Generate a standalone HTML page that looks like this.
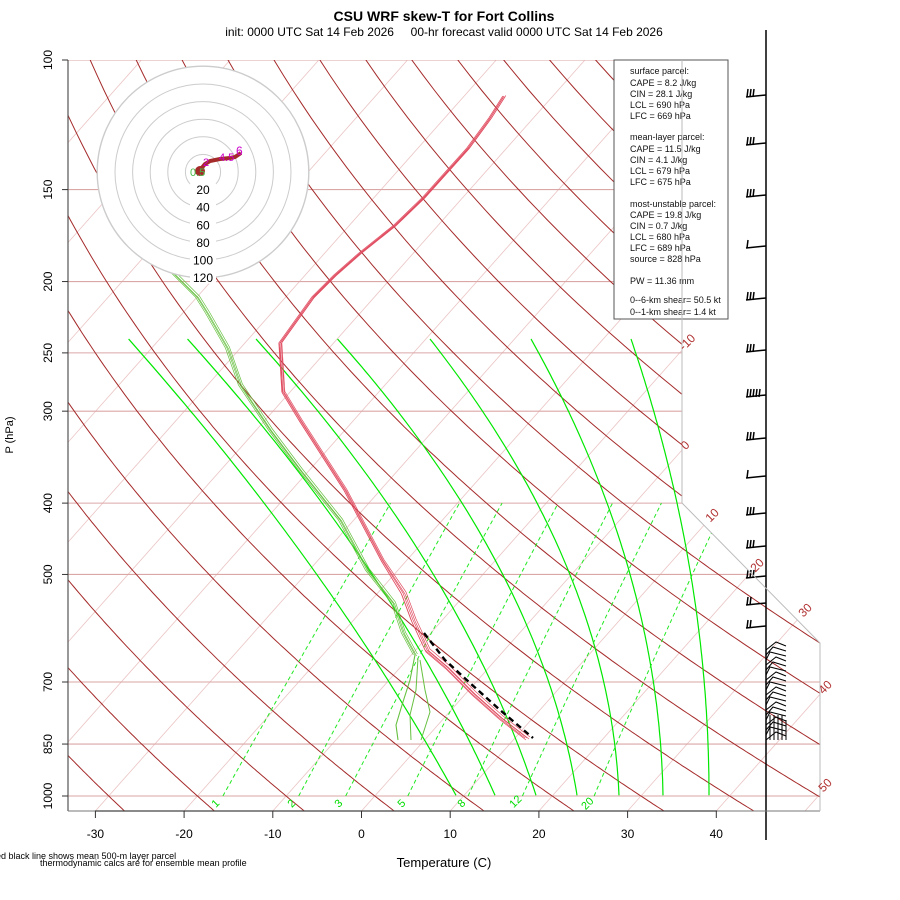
<!DOCTYPE html>
<html><head><meta charset="utf-8"><style>
body{margin:0;background:#fff;}
svg{display:block;font-family:"Liberation Sans",sans-serif;}
</style></head><body>
<svg id="s" width="900" height="900" viewBox="0 0 900 900" xmlns="http://www.w3.org/2000/svg">
<defs><clipPath id="cp"><polygon points="68,60 682,60 682,503 820,643 820,811 68,811"/></clipPath></defs>
<rect width="900" height="900" fill="#fff"/>
<g id="grid" clip-path="url(#cp)"></g>
<g id="prof" fill="none"></g>
<g id="hodo"></g>
<g id="over"></g>
<text x="444" y="21" text-anchor="middle" font-size="14" font-weight="bold">CSU WRF skew-T for Fort Collins</text>
<text x="444" y="36" text-anchor="middle" font-size="12">init: 0000 UTC Sat 14 Feb 2026&#160;&#160;&#160;&#160;&#160;00-hr forecast valid 0000 UTC Sat 14 Feb 2026</text>
<text x="444" y="867" text-anchor="middle" font-size="13">Temperature (C)</text>
<text transform="translate(13,435) rotate(-90)" text-anchor="middle" font-size="11">P (hPa)</text>
<text x="-4" y="859" font-size="9">ed black line shows mean 500-m layer parcel</text>
<text x="40" y="866" font-size="9">thermodynamic calcs are for ensemble mean profile</text>
<g font-size="9" fill="#111">
<rect x="614" y="60" width="114" height="259" fill="#fff" stroke="#555" stroke-width="1"/>
<text x="630" y="74">surface parcel:</text>
<text x="630" y="86">CAPE = 8.2 J/kg</text>
<text x="630" y="97">CIN = 28.1 J/kg</text>
<text x="630" y="108">LCL = 690 hPa</text>
<text x="630" y="119">LFC = 669 hPa</text>
<text x="630" y="140">mean-layer parcel:</text>
<text x="630" y="152">CAPE = 11.5 J/kg</text>
<text x="630" y="163">CIN = 4.1 J/kg</text>
<text x="630" y="174">LCL = 679 hPa</text>
<text x="630" y="185">LFC = 675 hPa</text>
<text x="630" y="207">most-unstable parcel:</text>
<text x="630" y="218">CAPE = 19.8 J/kg</text>
<text x="630" y="229">CIN = 0.7 J/kg</text>
<text x="630" y="240">LCL = 680 hPa</text>
<text x="630" y="251">LFC = 689 hPa</text>
<text x="630" y="262">source = 828 hPa</text>
<text x="630" y="284">PW =  11.36 mm</text>
<text x="630" y="303">0--6-km shear= 50.5 kt</text>
<text x="630" y="315">0--1-km shear= 1.4 kt</text>
</g>
</svg>
<script>
(function(){
var NS="http://www.w3.org/2000/svg";
function el(par,tag,at,txt){var e=document.createElementNS(NS,tag);for(var k in at)e.setAttribute(k,at[k]);if(txt!=null)e.textContent=txt;par.appendChild(e);return e;}
function yP(p){return 60+(Math.log10(p)-2)*736;}
function xT(T,y){return 361.5+8.87*T+0.888*(811-y);}
var g=document.getElementById('grid'),pr=document.getElementById('prof'),ho=document.getElementById('hodo'),ov=document.getElementById('over'),s=document.getElementById('s');
function poly(par,pts,at){var d=pts.map(function(q){return q[0].toFixed(1)+','+q[1].toFixed(1)}).join(' ');at.points=d;at.fill='none';return el(par,'polyline',at);}
for(var T=-160;T<=60;T+=10){poly(g,[[xT(T,811),811],[xT(T,60),60]],{stroke:'#ebc4c4','stroke-width':0.8});}
[100,150,200,250,300,400,500,700,850,1000].forEach(function(p){var y=yP(p);el(g,'line',{x1:68,y1:y,x2:830,y2:y,stroke:'#dba6a6','stroke-width':1.1});});
for(var th=-40;th<=220;th+=10){var pts=[];for(var p=1060;p>=95;p-=5){var t=(th+273.15)*Math.pow(p/1000,0.2857)-273.15;var y=yP(p);pts.push([xT(t,y),y]);}poly(g,pts,{stroke:'#a52a2a','stroke-width':1});}
var yb=795.3,ym=503,yt=339;
var M=[[456,264,128.6],[495,322,187.5],[536,387,256],[577,462,337.5],[619,537,430],[663,607,531],[709,677,631]];
M.forEach(function(m){var pts=[];for(var y=yb;y>=yt-0.1;y-=4){var a=m[0]*(y-ym)*(y-yt)/((yb-ym)*(yb-yt))+m[1]*(y-yb)*(y-yt)/((ym-yb)*(ym-yt))+m[2]*(y-yb)*(y-ym)/((yt-yb)*(yt-ym));pts.push([a,y]);}
pts.push([m[2],yt]);poly(g,pts,{stroke:'#00e800','stroke-width':1.2});});
[1,2,3,5,8,12,20].forEach(function(w){var pts=[];for(var p=1000;p>=400;p-=10){var e=w*p/(622+w);var l=Math.log(e/6.112);var td=243.5*l/(17.67-l);var y=yP(p);pts.push([xT(td,y),y]);}poly(g,pts,{stroke:'#22e822','stroke-width':1,'stroke-dasharray':'4,3'});});
el(s,'line',{x1:68,y1:60,x2:68,y2:811,stroke:'#555','stroke-width':1.2});
el(s,'line',{x1:68,y1:811,x2:820,y2:811,stroke:'#777','stroke-width':1});
el(s,'line',{x1:95,y1:811,x2:717,y2:811,stroke:'#444','stroke-width':1.2});
el(s,'polyline',{points:'682,60 682,503 820,643 820,811',fill:'none',stroke:'#bbb','stroke-width':1});
[100,150,200,250,300,400,500,700,850,1000].forEach(function(p){var y=yP(p);el(s,'line',{x1:62,y1:y,x2:68,y2:y,stroke:'#333'});el(s,'text',{transform:'translate(52,'+y.toFixed(1)+') rotate(-90)','text-anchor':'middle','font-size':'12'},String(p));});
for(var T=-30;T<=40;T+=10){var x=361.5+8.87*T;el(s,'line',{x1:x,y1:811,x2:x,y2:818,stroke:'#333'});el(s,'text',{x:x,y:838,'text-anchor':'middle','font-size':'12'},String(T));}
[['-10',690,345],['0',688,448],['10',715,518],['20',760,568],['30',808,613],['40',828,690],['50',828,788]].forEach(function(l){el(s,'text',{transform:'translate('+l[1]+','+l[2]+') rotate(-45)','text-anchor':'middle','font-size':'12',fill:'#b03030'},l[0]);});
[['1',218,806],['2',294,806],['3',341,806],['5',404,806],['8',464,806],['12',518,804],['20',590,806]].forEach(function(l){el(s,'text',{transform:'translate('+l[1]+','+l[2]+') rotate(-45)','text-anchor':'middle','font-size':'11',fill:'#00dd00'},l[0]);});
var TP=[[504,96],[490,118],[468,148],[424,197],[395,225],[360,253],[335,275],[313,297],[280,343],[283,392],[300,420],[345,490],[382,560],[403,593],[413,620],[427,650],[447,667],[473,693],[500,717],[527,738]];
var DP=[[172,272],[197,297],[207,313],[227,348],[240,385],[270,430],[300,470],[340,520],[367,570],[393,603],[403,633],[415,655]];
[[0,0],[2,1],[-2,0],[3,-1],[-1,2]].forEach(function(o){poly(pr,TP.map(function(q,j){var f=j>12?1:0.6;return [q[0]+o[0]*f,q[1]+o[1]*f];}),{stroke:'#e04c60','stroke-width':0.7});});
[[0,0],[2,1],[-2,0],[3,-1]].forEach(function(o){poly(pr,DP.map(function(q){return [q[0]+o[0]*0.8,q[1]+o[1]];}),{stroke:'#66c040','stroke-width':0.7});});
poly(pr,[[415,655],[410,680],[402,705],[396,725],[398,740]],{stroke:'#66c040','stroke-width':1.1});
poly(pr,[[418,658],[416,690],[410,715],[411,740]],{stroke:'#66c040','stroke-width':1});
poly(pr,[[420,660],[425,690],[430,712],[421,740]],{stroke:'#66c040','stroke-width':1});
el(pr,'polyline',{points:'424,633 445,660 470,683 500,710 533,738',stroke:'#000','stroke-width':2.4,'stroke-dasharray':'6,4'});
var cx=203,cy=172;
el(ho,'circle',{cx:cx,cy:cy,r:106,fill:'#fff',stroke:'#ccc'});
for(var i=1;i<=6;i++){el(ho,'circle',{cx:cx,cy:cy,r:17.6*i,fill:'none',stroke:'#ccc'});}
for(var i=1;i<=6;i++){var y=cy+17.6*i;el(ho,'rect',{x:cx-13,y:y-6,width:26,height:12,fill:'#fff'});el(ho,'text',{x:cx,y:y+4.5,'text-anchor':'middle','font-size':'12'},String(20*i));}
el(ho,'polyline',{points:'195,172 200,170 205,164 210,161 220,159 230,158 235,157 241,153',fill:'none',stroke:'#a52a2a','stroke-width':4});
el(ho,'circle',{cx:200,cy:171,r:5,fill:'#a52a2a'});
el(ho,'text',{x:190,y:176,'font-size':'11',fill:'#44bb44'},'0.5');
el(ho,'text',{x:203,y:166,'font-size':'11',fill:'#cc00cc'},'2');
el(ho,'text',{x:219,y:161,'font-size':'11',fill:'#cc00cc'},'4.5');
el(ho,'text',{x:236,y:155,'font-size':'12',fill:'#cc00cc'},'6');
el(ov,'line',{x1:766,y1:30,x2:766,y2:840,stroke:'#000','stroke-width':1.5});
var B=[[97,3],[145,3],[197,3],[248,1],[300,3],[352,3],[397,5],[440,3],[478,1],[515,3],[548,3],[578,3],[605,2],[628,2]];
B.forEach(function(b){var y=b[0];el(ov,'line',{x1:766,y1:y-2,x2:746,y2:y,stroke:'#000','stroke-width':1.5});for(var k=0;k<b[1];k++){var x=747+k*3;el(ov,'line',{x1:x,y1:y,x2:x+1,y2:y-8,stroke:'#000','stroke-width':1.5});}});
var d='';for(var y=650;y<=740;y+=5){d+='M766,'+y+' L'+(770+(y%3)*3)+','+(y-8)+' L786,'+(y-4)+' ';}
el(ov,'path',{d:d,fill:'none',stroke:'#000','stroke-width':1});
el(ov,'path',{d:'M766,700 L766,740 M770,715 V740 M774,715 V740 M778,715 V740 M782,715 V740 M786,720 V740',fill:'none',stroke:'#000','stroke-width':1});
})();
</script>
</body></html>
